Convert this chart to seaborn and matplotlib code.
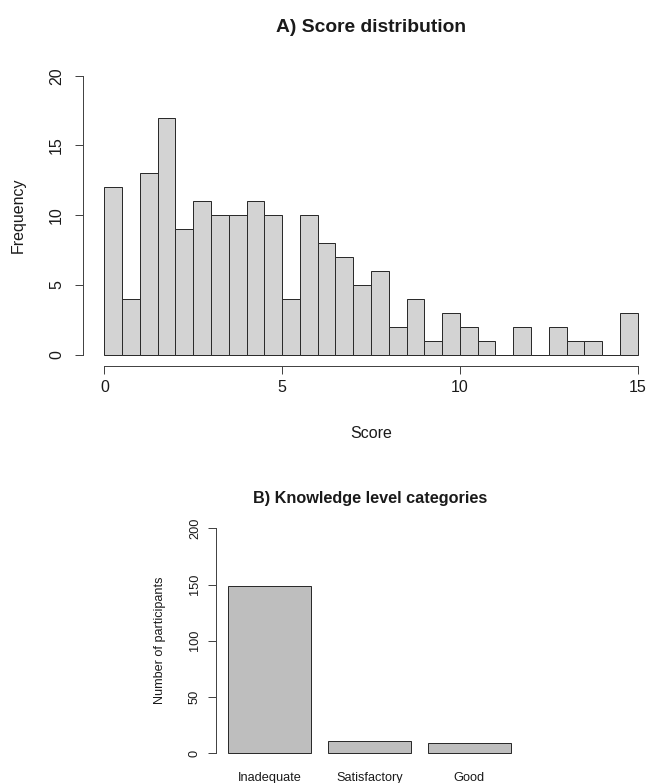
import numpy as np
import pandas as pd
import matplotlib
matplotlib.use("Agg")
import matplotlib.pyplot as plt
import seaborn as sns

# ---- Data ----
score_bin_width = 0.5
score_range = (0, 15)
score_bin_starts = [0.0, 0.5, 1.0, 1.5, 2.0, 2.5, 3.0, 3.5, 4.0, 4.5,
                    5.0, 5.5, 6.0, 6.5, 7.0, 7.5, 8.0, 8.5, 9.0, 9.5,
                    10.0, 10.5, 11.0, 11.5, 12.0, 12.5, 13.0, 13.5, 14.0, 14.5]
score_counts = [12, 4, 13, 17, 9, 11, 10, 10, 11, 10,
                4, 10, 8, 7, 5, 6, 2, 4, 1, 3,
                2, 1, 0, 2, 0, 2, 1, 1, 0, 3]
score_xticks = [0, 5, 10, 15]
freq_yticks = [0, 5, 10, 15, 20]

level_categories = ["Inadequate", "Satisfactory", "Good"]
level_counts = [149, 11, 9]
level_yticks = [0, 50, 100, 150, 200]

plt.rcParams["font.family"] = ["Liberation Sans", "DejaVu Sans"]
plt.rcParams["text.color"] = "#1a1a1a"

W, H = 648, 783
fig = plt.figure(figsize=(W / 72, H / 72), dpi=72)

AXC = "#444444"

def px_axes(l, t, r, b):
    return fig.add_axes([l / W, 1 - b / H, (r - l) / W, (b - t) / H])

# ---- Panel A: histogram ----
axA = px_axes(83, 64.6, 659, 365.7)
hist_df = pd.DataFrame({
    "center": np.asarray(score_bin_starts) + score_bin_width / 2,
    "count": score_counts,
})
sns.histplot(data=hist_df, x="center", weights="count",
             binwidth=score_bin_width, binrange=score_range,
             color="#D3D3D3", edgecolor="#2b2b2b", linewidth=1.0, alpha=1.0,
             ax=axA)
axA.set_xlim(-0.6, 15.6)
axA.set_ylim(-0.8, 20.8)
axA.set_xlabel("")
axA.set_ylabel("")
for s in ["top", "right"]:
    axA.spines[s].set_visible(False)
axA.spines["left"].set_bounds(0, 20)
axA.spines["bottom"].set_bounds(0, 15)
for s in ["left", "bottom"]:
    axA.spines[s].set_color(AXC)
    axA.spines[s].set_linewidth(1.0)
axA.set_xticks(score_xticks)
axA.set_xticklabels([str(v) for v in score_xticks])
axA.set_yticks(freq_yticks)
axA.set_yticklabels([str(v) for v in freq_yticks], rotation=90, va="center")
axA.tick_params(axis="both", direction="out", length=8, width=1.0,
                color=AXC, labelsize=16, labelcolor="#1a1a1a")
axA.tick_params(axis="x", pad=6)
axA.tick_params(axis="y", pad=11)

fig.text(371 / W, 1 - 27 / H, "A) Score distribution", ha="center",
         va="center", fontsize=19.2, fontweight="bold")
fig.text(371 / W, 1 - 434 / H, "Score", ha="center", va="center",
         fontsize=16)
fig.text(18 / W, 1 - 215 / H, "Frequency", ha="center", va="center",
         fontsize=16, rotation=90)

# ---- Panel B: bar chart ----
axB = px_axes(216, 519.3, 524.7, 762.3)
bar_df = pd.DataFrame({"level": level_categories, "n": level_counts})
sns.barplot(data=bar_df, x="level", y="n", color="#BEBEBE", saturation=1,
            edgecolor="#2b2b2b", linewidth=1.0, width=0.833, ax=axB)
axB.set_xlim(-0.535, 2.555)
axB.set_ylim(-8, 208)
axB.set_xlabel("")
axB.set_ylabel("")
for s in ["top", "right", "bottom"]:
    axB.spines[s].set_visible(False)
axB.spines["left"].set_bounds(0, 200)
axB.spines["left"].set_color(AXC)
axB.spines["left"].set_linewidth(1.0)
axB.set_yticks(level_yticks)
axB.set_yticklabels([str(v) for v in level_yticks], rotation=90, va="center")
axB.tick_params(axis="y", direction="out", length=8, width=1.0, color=AXC,
                labelsize=12.8, labelcolor="#1a1a1a", pad=7)
axB.tick_params(axis="x", length=0, labelsize=12.8, labelcolor="#1a1a1a",
                pad=10)

fig.text(370.5 / W, 1 - 498 / H, "B) Knowledge level categories",
         ha="center", va="center", fontsize=16.3, fontweight="bold")
fig.text(160 / W, 1 - 640.7 / H, "Number of participants", ha="center",
         va="center", fontsize=12.6, rotation=90)

fig.savefig("out.png", dpi=72)
